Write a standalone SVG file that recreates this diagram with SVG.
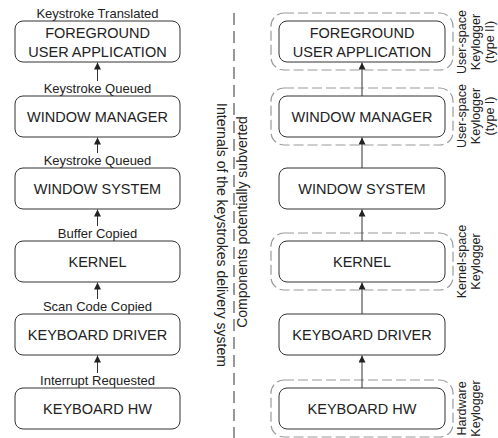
<svg xmlns="http://www.w3.org/2000/svg" width="498" height="438" viewBox="0 0 498 438">
  <defs>
    <marker id="arrow" markerUnits="userSpaceOnUse" markerWidth="8" markerHeight="8" refX="7" refY="3.5" orient="auto">
      <path d="M0,0 L7,3.5 L0,7 z" fill="#222"/>
    </marker>
    <style>
      .box { fill: #fff; stroke: #333; stroke-width: 1; }
      .frame { fill: none; stroke: #9a9a9a; stroke-width: 1.2; stroke-dasharray: 10 4; }
      .name { font-family: "Liberation Sans", Arial, sans-serif; font-size: 14.5px; fill: #222; text-anchor: middle; }
      .event { font-family: "Liberation Sans", Arial, sans-serif; font-size: 13px; fill: #222; text-anchor: middle; }
      .side { font-family: "Liberation Sans", Arial, sans-serif; font-size: 14px; fill: #222; text-anchor: middle; }
      .kind { font-family: "Liberation Sans", Arial, sans-serif; font-size: 12.5px; fill: #222; text-anchor: middle; }
      .flow { stroke: #333; stroke-width: 1; fill: none; marker-end: url(#arrow); }
      .divider { stroke: #333; stroke-width: 1; stroke-dasharray: 12 6; fill: none; }
    </style>
  </defs>
  <rect width="498" height="438" fill="#fff"/>

  <!-- Left column: delivery chain with event labels -->
  <g id="l-app">
    <text class="event" x="97.5" y="18">Keystroke Translated</text>
    <rect class="box" x="15" y="21" width="165" height="41" rx="8"/>
    <text class="name" x="97.5" y="38">FOREGROUND</text>
    <text class="name" x="97.5" y="57">USER APPLICATION</text>
  </g>
  <g id="l-wm">
    <text class="event" x="97.5" y="93">Keystroke Queued</text>
    <rect class="box" x="15" y="96" width="165" height="41" rx="8"/>
    <text class="name" x="97.5" y="121.5">WINDOW MANAGER</text>
  </g>
  <g id="l-ws">
    <text class="event" x="97.5" y="165">Keystroke Queued</text>
    <rect class="box" x="15" y="168" width="165" height="41" rx="8"/>
    <text class="name" x="97.5" y="193.5">WINDOW SYSTEM</text>
  </g>
  <g id="l-kernel">
    <text class="event" x="97.5" y="238">Buffer Copied</text>
    <rect class="box" x="15" y="241" width="165" height="41" rx="8"/>
    <text class="name" x="97.5" y="266.5">KERNEL</text>
  </g>
  <g id="l-driver">
    <text class="event" x="97.5" y="311">Scan Code Copied</text>
    <rect class="box" x="15" y="314" width="165" height="41" rx="8"/>
    <text class="name" x="97.5" y="339.5">KEYBOARD DRIVER</text>
  </g>
  <g id="l-hw">
    <text class="event" x="97.5" y="385">Interrupt Requested</text>
    <rect class="box" x="15" y="388" width="165" height="41" rx="8"/>
    <text class="name" x="97.5" y="413.5">KEYBOARD HW</text>
  </g>

  <!-- Divider and its captions -->
  <g id="divider">
    <line class="divider" x1="234" y1="13" x2="234" y2="438"/>
    <text class="side" transform="translate(217,235) rotate(90)">Internals of the keystrokes delivery system</text>
    <text class="side" transform="translate(247,222) rotate(-90)">Components potentially subverted</text>
  </g>

  <!-- Right column: components with keylogger frames -->
  <g id="r-app">
    <rect class="frame" x="271" y="13" width="182" height="57" rx="13"/>
    <rect class="box" x="279" y="21" width="166" height="41" rx="8"/>
    <text class="name" x="362" y="38">FOREGROUND</text>
    <text class="name" x="362" y="57">USER APPLICATION</text>
    <text class="kind" transform="translate(466,42) rotate(-90)"><tspan x="0" y="0">User-space</tspan><tspan x="0" y="14">Keylogger</tspan><tspan x="0" y="28">(type II)</tspan></text>
  </g>
  <g id="r-wm">
    <rect class="frame" x="271" y="88" width="182" height="57" rx="13"/>
    <rect class="box" x="279" y="96" width="166" height="41" rx="8"/>
    <text class="name" x="362" y="121.5">WINDOW MANAGER</text>
    <text class="kind" transform="translate(466,116) rotate(-90)"><tspan x="0" y="0">User-space</tspan><tspan x="0" y="14">Keylogger</tspan><tspan x="0" y="28">(type I)</tspan></text>
  </g>
  <g id="r-ws">
    <rect class="box" x="279" y="168" width="166" height="41" rx="8"/>
    <text class="name" x="362" y="193.5">WINDOW SYSTEM</text>
  </g>
  <g id="r-kernel">
    <rect class="frame" x="271" y="233" width="182" height="57" rx="13"/>
    <rect class="box" x="279" y="241" width="166" height="41" rx="8"/>
    <text class="name" x="362" y="266.5">KERNEL</text>
    <text class="kind" transform="translate(466,261.5) rotate(-90)"><tspan x="0" y="0">Kernel-space</tspan><tspan x="0" y="14">Keylogger</tspan></text>
  </g>
  <g id="r-driver">
    <rect class="box" x="279" y="314" width="166" height="41" rx="8"/>
    <text class="name" x="362" y="339.5">KEYBOARD DRIVER</text>
  </g>
  <g id="r-hw">
    <rect class="frame" x="271" y="380" width="182" height="57" rx="13"/>
    <rect class="box" x="279" y="388" width="166" height="41" rx="8"/>
    <text class="name" x="362" y="413.5">KEYBOARD HW</text>
    <text class="kind" transform="translate(466,408.5) rotate(-90)"><tspan x="0" y="0">Hardware</tspan><tspan x="0" y="14">Keylogger</tspan></text>
  </g>

  <!-- Connectors -->
  <g id="connectors">
    <line class="flow" x1="97.5" y1="81" x2="97.5" y2="62.5"/>
    <line class="flow" x1="97.5" y1="153" x2="97.5" y2="137.5"/>
    <line class="flow" x1="97.5" y1="226" x2="97.5" y2="209.5"/>
    <line class="flow" x1="97.5" y1="299" x2="97.5" y2="282.5"/>
    <line class="flow" x1="97.5" y1="373" x2="97.5" y2="355.5"/>
    <line class="flow" x1="362" y1="96" x2="362" y2="62.5"/>
    <line class="flow" x1="362" y1="168" x2="362" y2="137.5"/>
    <line class="flow" x1="362" y1="241" x2="362" y2="209.5"/>
    <line class="flow" x1="362" y1="314" x2="362" y2="282.5"/>
    <line class="flow" x1="362" y1="388" x2="362" y2="355.5"/>
  </g>
</svg>
